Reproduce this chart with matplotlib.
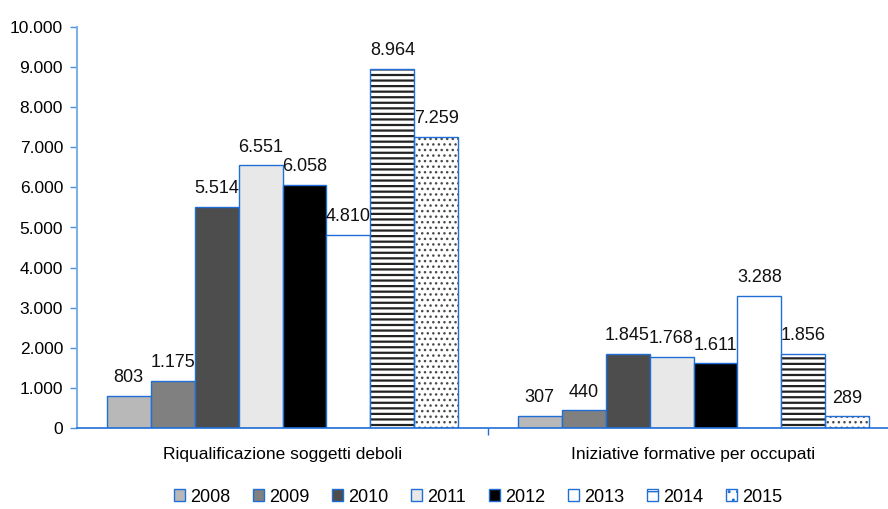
import matplotlib
matplotlib.use("Agg")
import matplotlib.pyplot as plt
import numpy as np
from matplotlib.ticker import FuncFormatter
from matplotlib.patches import Patch

plt.rcParams['font.family'] = ['Liberation Sans', 'DejaVu Sans']

categories = ["Riqualificazione soggetti deboli", "Iniziative formative per occupati"]
years = ["2008", "2009", "2010", "2011", "2012", "2013", "2014", "2015"]
values = {
    "2008": [803, 307],
    "2009": [1175, 440],
    "2010": [5514, 1845],
    "2011": [6551, 1768],
    "2012": [6058, 1611],
    "2013": [4810, 3288],
    "2014": [8964, 1856],
    "2015": [7259, 289],
}

fills = {
    "2008": "#b8b8b8", "2009": "#808080", "2010": "#4d4d4d", "2011": "#e8e8e8",
    "2012": "#000000", "2013": "#ffffff", "2014": "#ffffff", "2015": "#ffffff",
}
hatches = {"2014": "---", "2015": "..."}
hatch_colors = {"2014": "#222222", "2015": "#4a4a4a"}
hatch_widths = {"2014": 1.6, "2015": 1.0}
edge = "#1f6fd6"

fig = plt.figure(figsize=(8.88, 5.09), dpi=100)
ax = fig.add_axes([77 / 888, 81 / 509, 1 - 77 / 888, (428 - 27) / 509])

x = np.arange(len(categories))
bw = 0.107
n = len(years)

def thousands(v, pos=None):
    return f"{int(round(v)):,}".replace(",", ".")

for i, yr in enumerate(years):
    pos = x + (i - (n - 1) / 2) * bw
    vals = values[yr]
    if yr in hatches:
        with plt.rc_context({'hatch.linewidth': hatch_widths[yr]}):
            ax.bar(pos, vals, bw, color=fills[yr], edgecolor=hatch_colors[yr],
                   hatch=hatches[yr], linewidth=0, zorder=2)
        ax.bar(pos, vals, bw, fill=False, edgecolor=edge, linewidth=1.0, zorder=3)
    else:
        ax.bar(pos, vals, bw, color=fills[yr], edgecolor=edge, linewidth=1.0, zorder=2)
    for px, v in zip(pos, vals):
        ax.annotate(thousands(v), (px, v), xytext=(0, 7), textcoords="offset points",
                    ha="center", va="bottom", fontsize=13, color="#111111")

ax.set_ylim(0, 10000)
ax.set_yticks(np.arange(0, 10001, 1000))
ax.yaxis.set_major_formatter(FuncFormatter(thousands))
ax.set_xlim(-0.5, -0.5 + (888 - 77) / 411)
ax.set_xticks(x)
ax.set_xticklabels(categories, fontsize=12.5)
ax.set_xticks([0.5], minor=True)
ax.tick_params(axis="x", which="major", length=0, pad=14)
ax.tick_params(axis="x", which="minor", length=5, color=edge, width=1)
ax.tick_params(axis="y", length=5, color="#4a90e2", width=1, labelsize=12.5, pad=5)

for s in ["top", "right"]:
    ax.spines[s].set_visible(False)
ax.spines["left"].set_color("#7fb0e8")
ax.spines["left"].set_linewidth(1.5)
ax.spines["bottom"].set_color(edge)
ax.spines["bottom"].set_linewidth(1.2)
ax.spines["bottom"].set_zorder(4)

handles = []
for yr in years:
    if yr in hatches:
        with plt.rc_context({'hatch.linewidth': 1.0}):
            handles.append(Patch(facecolor="white", edgecolor=edge,
                                 hatch="-" if yr == "2014" else "..", linewidth=1.0))
    else:
        handles.append(Patch(facecolor=fills[yr], edgecolor=edge, linewidth=1.0))
fig.legend(handles, years, loc="center", bbox_to_anchor=(478 / 888, 12 / 509),
           ncol=8, frameon=False, fontsize=13, handlelength=0.6,
           handleheight=0.6, handletextpad=0.3, columnspacing=1.25)

fig.savefig("out.png", dpi=100)
